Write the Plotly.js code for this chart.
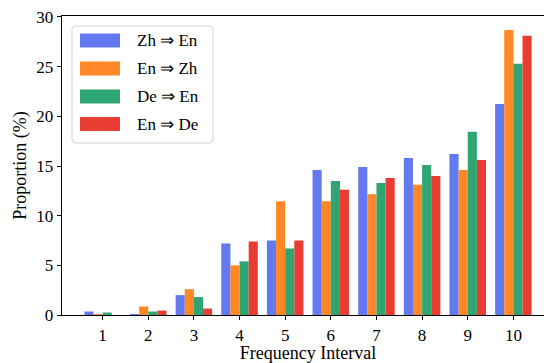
<!DOCTYPE html>
<html>
<head>
<meta charset="utf-8">
<script src="https://cdn.plot.ly/plotly-3.0.1.min.js"></script>
<style>
html, body { margin:0; padding:0; overflow:hidden; background:#fff; width:544px; height:363px; }
#chart { width:560px; height:363px; }
</style>
</head>
<body>
<div id="chart"></div>
<script>
// ---- data ----
const categories = [1, 2, 3, 4, 5, 6, 7, 8, 9, 10];
const seriesNames = ["Zh \u21D2 En", "En \u21D2 Zh", "De \u21D2 En", "En \u21D2 De"];
const zhEn = [0.35, 0.1, 2.0, 7.2, 7.5, 14.6, 14.9, 15.8, 16.2, 21.25];
const enZh = [0.1, 0.85, 2.6, 5.0, 11.45, 11.45, 12.15, 13.1, 14.6, 28.7];
const deEn = [0.25, 0.35, 1.8, 5.4, 6.7, 13.5, 13.3, 15.1, 18.45, 25.3];
const enDe = [0.0, 0.45, 0.65, 7.4, 7.5, 12.6, 13.8, 14.0, 15.6, 28.1];
const seriesColors = ["#6279F0", "#FF8725", "#2FA572", "#E93C33"];
const xTickVals = categories;
const yTickVals = [0, 5, 10, 15, 20, 25, 30];

const allSeries = [zhEn, enZh, deEn, enDe];

// ---- layout geometry ----
const W = 560, H = 363;
const M = { l: 62, r: 6, t: 16, b: 48 };
const PW = W - M.l - M.r, PH = H - M.t - M.b;
const px = x => (x - M.l) / PW;
const py = y => 1 - (y - M.t) / PH;

const FONT = "Liberation Serif";

const traces = allSeries.map((vals, i) => ({
  type: "bar",
  x: categories,
  y: vals,
  name: seriesNames[i],
  marker: { color: seriesColors[i], line: { width: 0 } },
  showlegend: false,
  hoverinfo: "none"
}));

// ---- custom legend ----
const shapes = [];
const annotations = [];
const bx0 = 72, bx1 = 213, by0 = 26, by1 = 143, r = 4;
const rp = (x, y) => px(x) + "," + py(y);
shapes.push({
  type: "path", xref: "paper", yref: "paper",
  path: "M" + rp(bx0 + r, by0) + " L" + rp(bx1 - r, by0) + " Q" + rp(bx1, by0) + " " + rp(bx1, by0 + r) +
        " L" + rp(bx1, by1 - r) + " Q" + rp(bx1, by1) + " " + rp(bx1 - r, by1) +
        " L" + rp(bx0 + r, by1) + " Q" + rp(bx0, by1) + " " + rp(bx0, by1 - r) +
        " L" + rp(bx0, by0 + r) + " Q" + rp(bx0, by0) + " " + rp(bx0 + r, by0) + " Z",
  fillcolor: "rgba(255,255,255,0.8)",
  line: { color: "#d4d4d4", width: 1 },
  layer: "above"
});
const rowCenters = [40.5, 68.5, 96.5, 124];
seriesNames.forEach((nm, i) => {
  const cy = rowCenters[i];
  shapes.push({
    type: "rect", xref: "paper", yref: "paper",
    x0: px(80), x1: px(120), y0: py(cy - 7), y1: py(cy + 7),
    fillcolor: seriesColors[i], line: { width: 0 }, layer: "above"
  });
  annotations.push({
    xref: "paper", yref: "paper", x: px(135), y: py(cy),
    xanchor: "left", yanchor: "middle", showarrow: false,
    text: nm, font: { family: FONT, size: 17, color: "#000" }
  });
});

const layout = {
  width: W, height: H,
  margin: M,
  paper_bgcolor: "#fff", plot_bgcolor: "#fff",
  barmode: "group", bargap: 0.2, bargroupgap: 0,
  font: { family: FONT, color: "#000", size: 17 },
  xaxis: {
    range: [0.11, 10.89],
    tickvals: xTickVals, ticktext: xTickVals.map(String),
    ticks: "outside", ticklen: 4, tickwidth: 1, tickcolor: "#000",
    showline: true, linecolor: "#000", linewidth: 1.3, mirror: true,
    showgrid: false, zeroline: false,
    tickfont: { family: FONT, size: 17, color: "#000" },
    title: { text: "Frequency Interval", font: { family: FONT, size: 18, color: "#000" }, standoff: 5 }
  },
  yaxis: {
    range: [0, 30.1],
    tickvals: yTickVals, ticktext: yTickVals.map(String),
    ticks: "outside", ticklen: 4, tickwidth: 1, tickcolor: "#000",
    showline: true, linecolor: "#000", linewidth: 1.3, mirror: true,
    showgrid: false, zeroline: false,
    tickfont: { family: FONT, size: 17, color: "#000" },
    title: { text: "Proportion (%)", font: { family: FONT, size: 18, color: "#000" }, standoff: 5 }
  },
  shapes: shapes,
  annotations: annotations
};

Plotly.newPlot("chart", traces, layout, { staticPlot: true, displayModeBar: false });
</script>
</body>
</html>
